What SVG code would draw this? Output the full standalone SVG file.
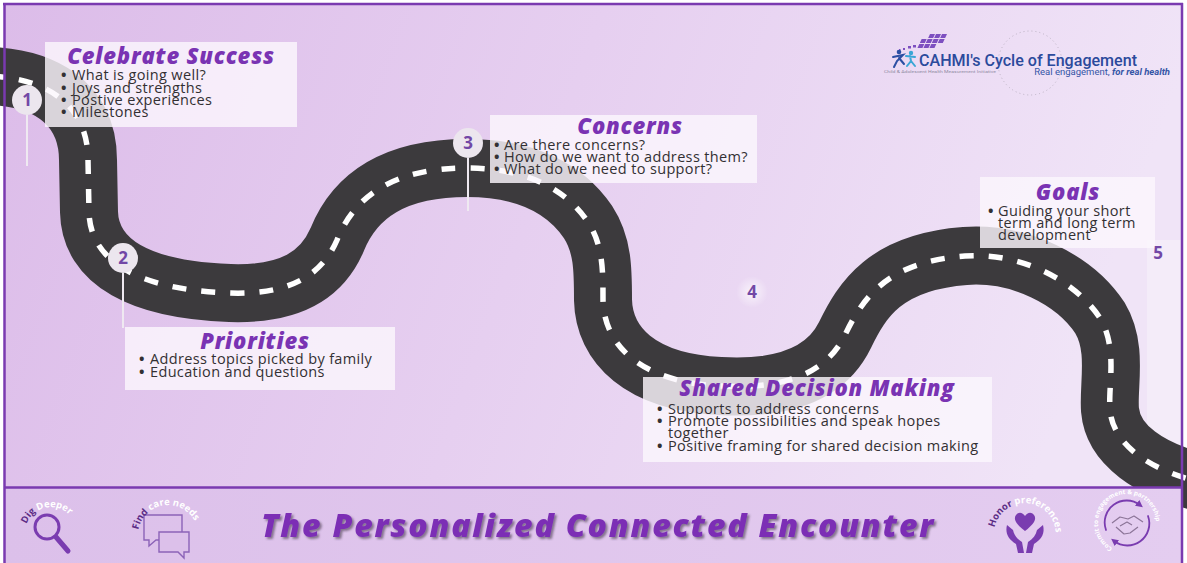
<svg xmlns="http://www.w3.org/2000/svg" width="1187" height="563" viewBox="0 0 1187 563">
  <defs>
    <linearGradient id="bg" x1="0" y1="0" x2="1" y2="0.15">
      <stop offset="0" stop-color="#dcbce9"/>
      <stop offset="0.5" stop-color="#e6cff0"/>
      <stop offset="1" stop-color="#f0e4f7"/>
    </linearGradient>
    <linearGradient id="barbg" x1="0" y1="0" x2="1" y2="0">
      <stop offset="0" stop-color="#dcc0ea"/>
      <stop offset="1" stop-color="#e4cdf0"/>
    </linearGradient>
    <filter id="shadow" x="-5%" y="-20%" width="110%" height="150%">
      <feDropShadow dx="2" dy="2" stdDeviation="0.8" flood-color="#3a2d40" flood-opacity="0.55"/>
    </filter>
    <radialGradient id="glow">
      <stop offset="0" stop-color="#ffffff" stop-opacity="0.7"/>
      <stop offset="1" stop-color="#ffffff" stop-opacity="0"/>
    </radialGradient>
    <!-- arcs for the curved icon captions -->
    <path id="arcDig" d="M 26.6,524.1 A 26,26 0 0 1 76.1,526.3"/>
    <path id="arcFind" d="M 138.5,529.8 A 30,30 0 0 1 197,527.2"/>
    <path id="arcHonor" d="M 994.5,527.6 A 31,31 0 0 1 1055.5,538.4"/>
    <path id="arcCommit" d="M 1112.5,548.1 A 29,29 0 1 1 1141.5,548.1"/>
    <marker id="arrowP" viewBox="0 0 10 10" refX="5" refY="5" markerWidth="4" markerHeight="4" orient="auto">
      <path d="M0,0 L10,5 L0,10 z" fill="#7a3cb0"/>
    </marker>
  </defs>
  <style>
    .road { fill: none; stroke: #3c3a3d; stroke-width: 58; }
    .lane { fill: none; stroke: #ffffff; stroke-width: 5.5; stroke-dasharray: 14 15; }
    .box { fill: #fbf6fc; fill-opacity: 0.82; }
    .title { font-family: "Open Sans", "DejaVu Sans", sans-serif; font-weight: 800; font-style: italic; font-size: 22px; letter-spacing: 0.8px; fill: #7a33b3; text-anchor: middle; }
    .body { font-family: "Open Sans", "DejaVu Sans", sans-serif; font-size: 14.5px; letter-spacing: 0.35px; fill: #333033; }
    .dot { font-weight: 700; }
    .marker { fill: #ece6ee; }
    .num { font-family: "Open Sans", "DejaVu Sans", sans-serif; font-weight: 700; font-size: 17px; fill: #7248a6; text-anchor: middle; }
    .pin { stroke: #efe9f1; stroke-width: 2; fill: none; }
    .frame { stroke: #7a3ab0; stroke-width: 2.5; fill: none; }
    .arcDark { font-family: "Open Sans", "DejaVu Sans", sans-serif; font-weight: 700; font-size: 9.5px; fill: #5b2c85; }
    .arcLight { font-family: "Open Sans", "DejaVu Sans", sans-serif; font-weight: 700; font-size: 9.5px; fill: #ffffff; }
    .arcSmall { font-family: "Open Sans", "DejaVu Sans", sans-serif; font-weight: 700; font-size: 6.3px; fill: #ffffff; }
    .icon { fill: none; stroke: #7a3cb0; stroke-linecap: round; stroke-linejoin: round; }
  </style>

  <!-- page -->
  <rect width="1187" height="563" fill="#ffffff"/>
  <rect x="4" y="4" width="1178" height="484" fill="url(#bg)"/>
  <rect x="1147" y="240" width="34" height="230" fill="#ffffff" fill-opacity="0.3"/>

  <!-- winding road -->
  <g id="road">
    <path class="road" d="M -10,76 C 40,78 88,100 88,160 L 89,212 C 90,262 140,290 230,293 C 290,295 322,275 337,240 C 355,195 395,168 467,168 C 525,168 565,188 588,222 C 603,245 603,270 603,300 C 604,345 640,382 720,386 C 790,390 828,370 845,335 C 862,300 885,262 965,256 C 1020,252 1075,280 1100,318 C 1118,348 1108,385 1110,410 C 1113,445 1150,470 1200,482"/>
    <path class="lane" d="M -10,76 C 40,78 88,100 88,160 L 89,212 C 90,262 140,290 230,293 C 290,295 322,275 337,240 C 355,195 395,168 467,168 C 525,168 565,188 588,222 C 603,245 603,270 603,300 C 604,345 640,382 720,386 C 790,390 828,370 845,335 C 862,300 885,262 965,256 C 1020,252 1075,280 1100,318 C 1118,348 1108,385 1110,410 C 1113,445 1150,470 1200,482"/>
  </g>

  <!-- pins from stop markers to their cards -->
  <g id="connectors">
    <line class="pin" x1="27" y1="115" x2="27" y2="166"/>
    <line class="pin" x1="123" y1="273" x2="123" y2="328"/>
    <line class="pin" x1="468" y1="158" x2="468" y2="211"/>
  </g>

  <!-- stop 1 -->
  <g id="celebrate-success">
    <rect class="box" x="45" y="42" width="252" height="85"/>
    <text class="title" x="171" y="64">Celebrate Success</text>
    <text class="body">
      <tspan class="dot" x="61" y="80">•</tspan><tspan x="72" y="80">What is going well?</tspan>
      <tspan class="dot" x="61" y="92.5">•</tspan><tspan x="72" y="92.5">Joys and strengths</tspan>
      <tspan class="dot" x="61" y="105">•</tspan><tspan x="72" y="105">Postive experiences</tspan>
      <tspan class="dot" x="61" y="117">•</tspan><tspan x="72" y="117">Milestones</tspan>
    </text>
  </g>
  <g id="stop-1">
    <circle class="marker" cx="27" cy="100" r="15"/>
    <text class="num" x="27" y="106">1</text>
  </g>

  <!-- stop 2 -->
  <g id="priorities">
    <rect class="box" x="125" y="327" width="270" height="63"/>
    <text class="title" x="255" y="349">Priorities</text>
    <text class="body">
      <tspan class="dot" x="139" y="364">•</tspan><tspan x="150" y="364">Address topics picked by family</tspan>
      <tspan class="dot" x="139" y="377">•</tspan><tspan x="150" y="377">Education and questions</tspan>
    </text>
  </g>
  <g id="stop-2">
    <circle class="marker" cx="123" cy="258" r="15"/>
    <text class="num" x="123" y="264">2</text>
  </g>

  <!-- stop 3 -->
  <g id="concerns">
    <rect class="box" x="490" y="115" width="267" height="68"/>
    <text class="title" x="630" y="134">Concerns</text>
    <text class="body">
      <tspan class="dot" x="494" y="150">•</tspan><tspan x="504" y="150">Are there concerns?</tspan>
      <tspan class="dot" x="494" y="162">•</tspan><tspan x="504" y="162">How do we want to address them?</tspan>
      <tspan class="dot" x="494" y="174">•</tspan><tspan x="504" y="174">What do we need to support?</tspan>
    </text>
  </g>
  <g id="stop-3">
    <circle class="marker" cx="468" cy="143" r="15"/>
    <text class="num" x="468" y="149">3</text>
  </g>

  <!-- stop 4 -->
  <g id="stop-4">
    <circle cx="752" cy="292" r="16" fill="url(#glow)"/>
    <text class="num" x="752" y="298">4</text>
  </g>
  <g id="shared-decision-making">
    <rect class="box" x="643" y="377" width="349" height="85"/>
    <text class="title" x="817" y="396">Shared Decision Making</text>
    <text class="body">
      <tspan class="dot" x="657" y="414">•</tspan><tspan x="668" y="414">Supports to address concerns</tspan>
      <tspan class="dot" x="657" y="426">•</tspan><tspan x="668" y="426">Promote possibilities and speak hopes</tspan>
      <tspan x="668" y="438">together</tspan>
      <tspan class="dot" x="657" y="451">•</tspan><tspan x="668" y="451">Positive framing for shared decision making</tspan>
    </text>
  </g>

  <!-- stop 5 -->
  <g id="goals">
    <rect class="box" x="980" y="177" width="175" height="71"/>
    <text class="title" x="1068" y="200">Goals</text>
    <text class="body">
      <tspan class="dot" x="988" y="216">•</tspan><tspan x="998" y="216">Guiding your short</tspan>
      <tspan x="998" y="228">term and long term</tspan>
      <tspan x="998" y="240">development</tspan>
    </text>
  </g>
  <g id="stop-5">
    <text class="num" x="1158" y="259">5</text>
  </g>

  <!-- brand mark -->
  <g id="logo">
    <circle cx="1030" cy="63" r="32" fill="none" stroke="#bdb3c4" stroke-width="1" stroke-dasharray="1 3"/>
    <g transform="translate(924,34) skewX(-25)" fill="#7d4fc0">
      <rect x="6" y="0" width="5" height="4"/><rect x="12" y="0" width="5" height="4"/><rect x="18" y="0" width="5" height="4"/>
      <rect x="0" y="5" width="5" height="4"/><rect x="6" y="5" width="5" height="4"/><rect x="12" y="5" width="5" height="4"/><rect x="18" y="5" width="5" height="4"/>
      <rect x="0" y="10" width="5" height="4"/><rect x="6" y="10" width="5" height="4"/><rect x="12" y="10" width="5" height="4"/>
    </g>
    <g fill="#7d4fc0">
      <rect x="908" y="46" width="3" height="2.5"/><rect x="913" y="45" width="3" height="2.5"/>
      <rect x="903" y="48" width="2" height="2"/><rect x="899" y="49" width="1.5" height="1.5"/>
    </g>
    <circle cx="899" cy="52" r="2.3" fill="#2c4fa3"/>
    <path d="M893,57 L903,55 L897,61 L894,67 M899,58 L904,64" fill="none" stroke="#2c4fa3" stroke-width="2" stroke-linecap="round"/>
    <circle cx="911" cy="53" r="2.2" fill="#3aa6d6"/>
    <path d="M906,56 L915,57 M910,56 L911,61 L907,66 M911,61 L915,66" fill="none" stroke="#3aa6d6" stroke-width="2" stroke-linecap="round"/>
    <text x="919" y="66" font-family="Roboto, 'Liberation Sans', sans-serif" font-weight="500" font-size="16" fill="#2b4a9c" textLength="218" lengthAdjust="spacingAndGlyphs">CAHMI's Cycle of Engagement</text>
    <text x="884" y="73" font-family="Roboto, 'Liberation Sans', sans-serif" font-size="3.6" fill="#8e8aa2" textLength="112" lengthAdjust="spacingAndGlyphs">Child &amp; Adolescent Health Measurement Initiative</text>
    <text x="1170" y="75" text-anchor="end" font-family="Roboto, 'Liberation Sans', sans-serif" font-size="9.5" fill="#3556a6">Real engagement, <tspan font-style="italic" font-weight="700">for real health</tspan></text>
  </g>

  <!-- footer band -->
  <rect x="4" y="488" width="1178" height="75" fill="url(#barbg)"/>

  <g id="dig-deeper">
    <circle class="icon" cx="47" cy="527" r="12" stroke-width="3"/>
    <line class="icon" x1="56" y1="537" x2="68" y2="551" stroke-width="5"/>
    <text><textPath href="#arcDig"><tspan class="arcDark">Dig </tspan><tspan class="arcLight">Deeper</tspan></textPath></text>
  </g>

  <g id="find-care-needs">
    <path d="M144,515 H182 V540 H156 L149,546 V540 H144 Z" fill="none" stroke="#8c63b8" stroke-width="1.4"/>
    <path d="M159,532 H189 V552 H184 V558 L178,552 H159 Z" fill="#dcc0ea" stroke="#8c63b8" stroke-width="1.4"/>
    <text><textPath href="#arcFind"><tspan class="arcDark">Find </tspan><tspan class="arcLight">care needs</tspan></textPath></text>
  </g>

  <g id="title-banner">
    <text x="598" y="537" text-anchor="middle" font-family="'Open Sans', 'DejaVu Sans', sans-serif" font-weight="800" font-style="italic" font-size="32" letter-spacing="1.8" fill="#7b2fb5" filter="url(#shadow)">The Personalized Connected Encounter</text>
  </g>

  <g id="honor-preferences">
    <path d="M1025,531 C1016,524 1013,519 1016,515 C1019,511 1023,513 1025,516 C1027,513 1031,511 1034,515 C1037,519 1034,524 1025,531 Z" fill="#7a3cb0"/>
    <path d="M1007,525 C1005,533 1008,539 1016,544 L1018,553 L1024,553 L1022,542 C1017,539 1014,535 1013,530 Z" fill="#7a3cb0"/>
    <path d="M1043,525 C1045,533 1042,539 1034,544 L1032,553 L1026,553 L1028,542 C1033,539 1036,535 1037,530 Z" fill="#7a3cb0"/>
    <text><textPath href="#arcHonor"><tspan class="arcDark">Honor </tspan><tspan class="arcLight">preferences</tspan></textPath></text>
  </g>

  <g id="commit">
    <path class="icon" d="M1106,530 A22,22 0 0 1 1140,505" stroke-width="1.8" marker-end="url(#arrowP)"/>
    <path class="icon" d="M1148,516 A22,22 0 0 1 1114,541" stroke-width="1.8" marker-end="url(#arrowP)"/>
    <path d="M1112,523 L1120,517 L1128,519 L1134,516 L1143,522 M1116,527 L1124,534 L1130,533 L1138,527 M1120,526 L1127,522 L1132,525" fill="none" stroke="#8c7598" stroke-width="1.2" stroke-linejoin="round"/>
    <text class="arcSmall"><textPath href="#arcCommit">Commit to engagement &amp; partnership</textPath></text>
  </g>

  <!-- frame rules -->
  <g id="frame">
    <line class="frame" x1="4.5" y1="3" x2="4.5" y2="563"/>
    <line class="frame" x1="3" y1="4" x2="1183" y2="4"/>
    <line class="frame" x1="1182" y1="3" x2="1182" y2="563"/>
    <line class="frame" x1="4" y1="487.5" x2="1182" y2="487.5" stroke-width="2"/>
  </g>
</svg>
